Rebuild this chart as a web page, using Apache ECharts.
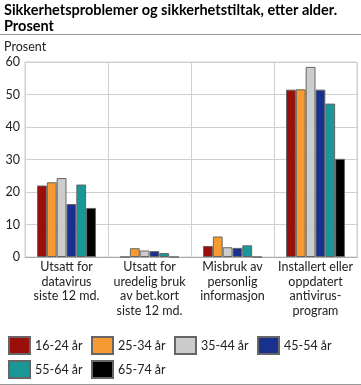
<!DOCTYPE html>
<html><head><meta charset="utf-8">
<script src="https://cdn.jsdelivr.net/npm/echarts@6/dist/echarts.min.js"></script>
<style>html,body{margin:0;padding:0;background:#fff}#c{width:361px;height:385px}</style>
</head><body><div id="c"></div>
<script>
const categories = ["Utsatt for\ndatavirus\nsiste 12 md.", "Utsatt for\nuredelig bruk\nav bet.kort\nsiste 12 md.", "Misbruk av\npersonlig\ninformasjon", "Installert eller\noppdatert\nantivirus-\nprogram"];
const seriesNames = ["16-24 år", "25-34 år", "35-44 år", "45-54 år", "55-64 år", "65-74 år"];
const v16_24 = [22.0, 0, 3.4, 51.5];
const v25_34 = [23.0, 2.7, 6.3, 51.6];
const v35_44 = [24.3, 2.0, 3.0, 58.5];
const v45_54 = [16.3, 1.8, 2.8, 51.5];
const v55_64 = [22.3, 1.2, 3.6, 47.2];
const v65_74 = [15.1, 0, 0, 30.2];
const yTicks = [0, 10, 20, 30, 40, 50, 60];
const colors = ["#9b0f0b", "#f79a32", "#cccccc", "#19318e", "#1a9898", "#000000"];
const values = [v16_24, v25_34, v35_44, v45_54, v55_64, v65_74];
const font = "Lato, sans-serif";

const legends = seriesNames.map((n, i) => ({
  data: [n], left: 8 + (i % 4) * 83, top: 336 + Math.floor(i / 4) * 24,
  itemWidth: 21, itemHeight: 17, itemGap: 0, icon: 'rect',
  textStyle: { fontFamily: font, fontSize: 12.5, color: '#222', padding: [0, 0, 0, 0] },
  selectedMode: false, padding: 0
}));

const chart = echarts.init(document.getElementById('c'), null, { renderer: 'canvas' });
chart.setOption({
  animation: false,
  title: {
    text: "Sikkerhetsproblemer og sikkerhetstiltak, etter alder.\nProsent",
    left: 4, top: 2, padding: 0,
    textStyle: { fontFamily: font, fontSize: 14.5, fontWeight: 'bold', color: '#000', lineHeight: 16 }
  },
  graphic: [
    { type: 'line', shape: { x1: 0, y1: 34.5, x2: 361, y2: 34.5 }, style: { stroke: '#999', lineWidth: 1 } },
    { type: 'line', shape: { x1: 0, y1: 384.5, x2: 361, y2: 384.5 }, style: { stroke: '#999', lineWidth: 1 } },
    { type: 'text', left: 4, top: 40, style: { text: 'Prosent', font: "12.5px Lato, sans-serif", fill: '#222' } }
  ],
  legend: legends,
  grid: { left: 25, right: 4, top: 62, bottom: 128, containLabel: false, show: true, borderColor: '#d0d0d0', borderWidth: 1 },
  xAxis: {
    type: 'category', data: categories,
    axisLine: { show: true, lineStyle: { color: '#aaa' } },
    axisTick: { show: false },
    splitLine: { show: true, lineStyle: { color: '#d0d0d0' } },
    axisLabel: { interval: 0, fontFamily: font, fontSize: 12.5, color: '#222', lineHeight: 14.5, margin: 3 }
  },
  yAxis: {
    type: 'value', min: 0, max: 60, interval: 10,
    axisLine: { show: true, lineStyle: { color: '#d0d0d0' } },
    axisTick: { show: false },
    splitLine: { show: true, lineStyle: { color: '#d0d0d0' } },
    axisLabel: { fontFamily: font, fontSize: 12.5, color: '#222', margin: 5,
      formatter: v => yTicks.includes(v) ? String(v) : '' }
  },
  series: seriesNames.map((n, i) => ({
    name: n, type: 'bar', data: values[i],
    barGap: '0%', barCategoryGap: '29%',
    itemStyle: { color: colors[i], borderColor: '#666', borderWidth: 1 }
  }))
});
</script></body></html>
